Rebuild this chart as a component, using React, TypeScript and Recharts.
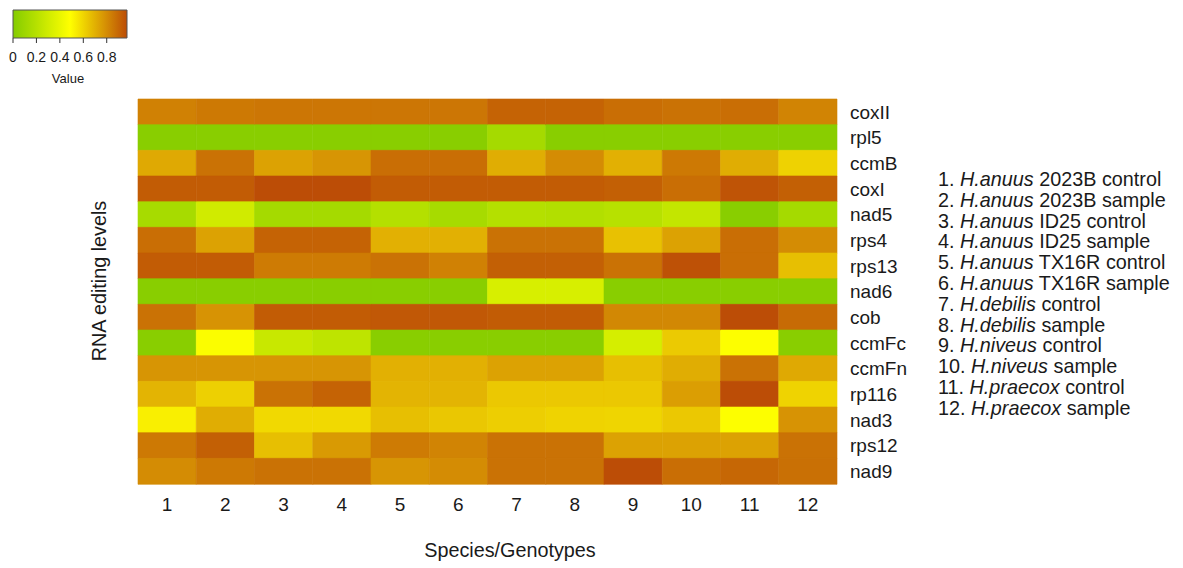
import { BarChart, Bar, Cell, XAxis, YAxis } from "recharts";

const GENES = [
  "coxII", "rpl5", "ccmB", "coxI", "nad5", "rps4", "rps13", "nad6",
  "cob", "ccmFc", "ccmFn", "rp116", "nad3", "rps12", "nad9",
];

const GENOTYPES = ["1", "2", "3", "4", "5", "6", "7", "8", "9", "10", "11", "12"];

// one row per gene, one value per genotype column
const EDITING_LEVELS = [
  [0.83, 0.85, 0.86, 0.86, 0.86, 0.86, 0.91, 0.91, 0.88, 0.87, 0.88, 0.82],
  [0.02, 0.02, 0.02, 0.02, 0.02, 0.02, 0.13, 0.02, 0.02, 0.02, 0.02, 0.02],
  [0.72, 0.87, 0.74, 0.775, 0.88, 0.88, 0.71, 0.8, 0.7, 0.85, 0.71, 0.61],
  [0.93, 0.93, 0.97, 0.97, 0.93, 0.93, 0.93, 0.93, 0.92, 0.88, 0.95, 0.92],
  [0.14, 0.3, 0.13, 0.13, 0.19, 0.14, 0.19, 0.18, 0.2, 0.25, 0.02, 0.13],
  [0.88, 0.74, 0.91, 0.91, 0.7, 0.7, 0.87, 0.87, 0.655, 0.74, 0.88, 0.8],
  [0.93, 0.93, 0.845, 0.845, 0.87, 0.83, 0.92, 0.92, 0.87, 0.96, 0.88, 0.66],
  [0.02, 0.02, 0.02, 0.02, 0.02, 0.02, 0.33, 0.33, 0.02, 0.02, 0.02, 0.02],
  [0.87, 0.78, 0.93, 0.93, 0.94, 0.94, 0.93, 0.93, 0.81, 0.81, 0.97, 0.89],
  [0.02, 0.47, 0.27, 0.23, 0.02, 0.02, 0.02, 0.02, 0.32, 0.63, 0.48, 0.02],
  [0.775, 0.775, 0.775, 0.775, 0.7, 0.7, 0.74, 0.74, 0.66, 0.71, 0.87, 0.72],
  [0.69, 0.615, 0.87, 0.91, 0.69, 0.69, 0.635, 0.635, 0.635, 0.75, 0.97, 0.605],
  [0.53, 0.71, 0.59, 0.59, 0.66, 0.64, 0.62, 0.605, 0.6, 0.635, 0.48, 0.78],
  [0.85, 0.92, 0.66, 0.76, 0.845, 0.82, 0.87, 0.87, 0.74, 0.74, 0.74, 0.87],
  [0.8, 0.85, 0.87, 0.87, 0.775, 0.8, 0.87, 0.87, 0.97, 0.88, 0.9, 0.875],
];

const GENOTYPE_NAMES = [
  { species: "H.anuus", rest: "2023B control" },
  { species: "H.anuus", rest: "2023B sample" },
  { species: "H.anuus", rest: "ID25 control" },
  { species: "H.anuus", rest: "ID25 sample" },
  { species: "H.anuus", rest: "TX16R control" },
  { species: "H.anuus", rest: "TX16R sample" },
  { species: "H.debilis", rest: "control" },
  { species: "H.debilis", rest: "sample" },
  { species: "H.niveus", rest: "control" },
  { species: "H.niveus", rest: "sample" },
  { species: "H.praecox", rest: "control" },
  { species: "H.praecox", rest: "sample" },
];

const SCALE_MAX = 0.973;
const SCALE_TICKS = [0, 0.2, 0.4, 0.6, 0.8];
const SCALE_COLORS = [
  [132, 204, 0],
  [255, 255, 0],
  [188, 76, 6],
];

const FONT = "'Liberation Sans', Arial, sans-serif";
const INK = "#1a1a1a";

function levelColor(v: number) {
  const t = Math.max(0, Math.min(1, v / SCALE_MAX));
  const [a, b, f] =
    t < 0.5 ? [SCALE_COLORS[0], SCALE_COLORS[1], t * 2] : [SCALE_COLORS[1], SCALE_COLORS[2], (t - 0.5) * 2];
  const c = a.map((x, i) => Math.round(x + (b[i] - x) * f));
  return `rgb(${c[0]},${c[1]},${c[2]})`;
}

const rows = GENES.map((gene) => {
  const row: Record<string, string | number> = { gene };
  GENOTYPES.forEach((_, j) => (row[`g${j}`] = 1));
  return row;
});

const colCenters = GENOTYPES.map((_, j) => j + 0.5);

function ColorKey() {
  const stops = Array.from({ length: 11 }, (_, i) => i / 10);
  return (
    <div style={{ position: "absolute", left: 0, top: 0 }}>
      <svg width={0} height={0} style={{ position: "absolute" }}>
        <defs>
          <linearGradient id="valueGrad" x1="0" y1="0" x2="1" y2="0">
            {stops.map((s) => (
              <stop key={s} offset={s} stopColor={levelColor(s * SCALE_MAX)} />
            ))}
          </linearGradient>
        </defs>
      </svg>
      <BarChart
        width={160}
        height={66}
        layout="vertical"
        data={[{ name: "Value", value: SCALE_MAX }]}
        margin={{ top: 10, left: 13, right: 33, bottom: 0 }}
        barCategoryGap={0}
      >
        <XAxis
          type="number"
          domain={[0, SCALE_MAX]}
          ticks={SCALE_TICKS}
          tickFormatter={(v) => String(v)}
          axisLine={false}
          tickSize={5}
          tickMargin={9}
          tickLine={{ stroke: "#333" }}
          tick={{ fill: INK, fontSize: 14, fontFamily: FONT }}
          height={28}
          interval={0}
        />
        <YAxis type="category" dataKey="name" hide />
        <Bar dataKey="value" fill="url(#valueGrad)" stroke="#555" strokeWidth={1} isAnimationActive={false} />
      </BarChart>
      <div
        style={{
          position: "absolute",
          left: 28,
          top: 71,
          width: 80,
          textAlign: "center",
          fontSize: 13,
          fontFamily: FONT,
          color: INK,
        }}
      >
        Value
      </div>
    </div>
  );
}

export default function App() {
  return (
    <div style={{ position: "absolute", left: 0, top: 0, width: 1183, height: 568, background: "#fff", fontFamily: FONT }}>
      <ColorKey />
      <div style={{ position: "absolute", left: 0, top: 0 }}>
        <BarChart
          width={1183}
          height={568}
          layout="vertical"
          data={rows}
          margin={{ top: 99, left: 138, right: 266, bottom: 44 }}
          barCategoryGap={0}
          barGap={0}
        >
          <XAxis
            type="number"
            domain={[0, GENOTYPES.length]}
            ticks={colCenters}
            tickFormatter={(v) => GENOTYPES[Math.floor(v)]}
            axisLine={false}
            tickLine={false}
            tickSize={0}
            tickMargin={14}
            height={40}
            interval={0}
            tick={{ fill: INK, fontSize: 19, fontFamily: FONT }}
          />
          <YAxis
            type="category"
            dataKey="gene"
            orientation="right"
            width={80}
            axisLine={false}
            tickLine={false}
            tickSize={0}
            tickMargin={13}
            interval={0}
            tick={{ fill: INK, fontSize: 19, fontFamily: FONT, textAnchor: "start" }}
          />
          {GENOTYPES.map((g, j) => (
            <Bar key={g} dataKey={`g${j}`} stackId="cells" isAnimationActive={false}>
              {GENES.map((gene, r) => {
                const fill = levelColor(EDITING_LEVELS[r][j]);
                return <Cell key={gene} fill={fill} stroke={fill} strokeWidth={0.6} />;
              })}
            </Bar>
          ))}
        </BarChart>
      </div>
      <div
        style={{
          position: "absolute",
          left: 380,
          top: 539,
          width: 260,
          textAlign: "center",
          fontSize: 19.8,
          color: INK,
        }}
      >
        Species/Genotypes
      </div>
      <div
        style={{
          position: "absolute",
          left: 98.5,
          top: 281,
          transform: "translate(-50%, -50%) rotate(-90deg)",
          whiteSpace: "nowrap",
          fontSize: 19.8,
          color: INK,
        }}
      >
        RNA editing levels
      </div>
      <div style={{ position: "absolute", left: 938, top: 169, fontSize: 19.8, lineHeight: "20.8px", color: INK }}>
        {GENOTYPE_NAMES.map((n, i) => (
          <div key={i} style={{ whiteSpace: "nowrap" }}>
            {i + 1}. <i>{n.species}</i> {n.rest}
          </div>
        ))}
      </div>
    </div>
  );
}
